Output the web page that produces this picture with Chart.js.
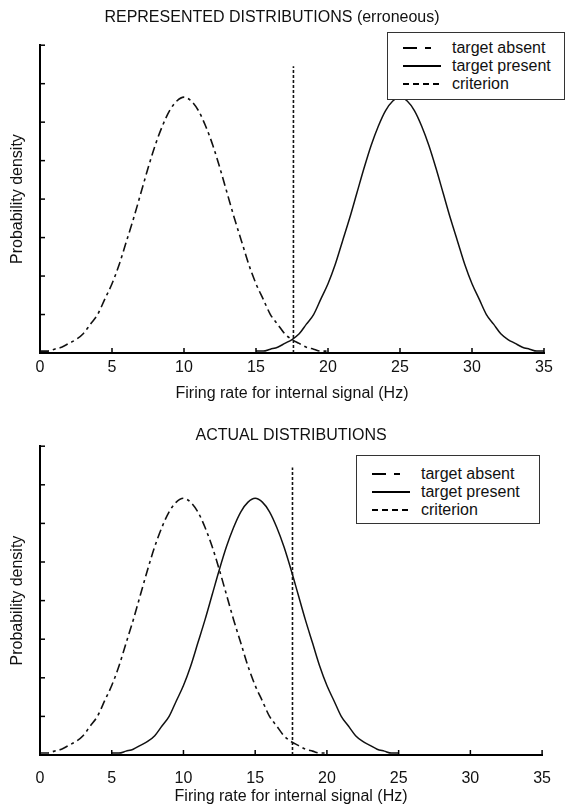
<!DOCTYPE html>
<html>
<head>
<meta charset="utf-8">
<script src="https://cdn.jsdelivr.net/npm/chart.js@4.4.0/dist/chart.umd.min.js"></script>
<style>
    body { margin: 0; background: #fff; }
    #contenedor { position: relative; width: 565px; height: 807px; }
    canvas { position: absolute; left: 0; }
    .leyenda {
        position: absolute;
        background: #fff;
        border: 1.5px solid #333;
        font: 16px "Liberation Sans", Arial, sans-serif;
        color: #111;
        box-sizing: border-box;
        padding-top: 6px;
    }
    .leyenda div { display: flex; align-items: center; height: 18px; }
    .leyenda svg { margin-left: 15px; margin-right: 11px; }
</style>
</head>
<body>
<div id="contenedor">
    <canvas id="grafico-representado" width="565" height="404" style="top:0"></canvas>
    <canvas id="grafico-real" width="565" height="403" style="top:404px"></canvas>
    <div id="leyenda-representado" class="leyenda" style="left:387px; top:32px; width:178px; height:68px"></div>
    <div id="leyenda-real" class="leyenda" style="left:356px; top:455px; width:184px; height:69px; padding-top:9px"></div>
</div>
<script>
// Valores
const etiquetasX = [0, 5, 10, 15, 20, 25, 30, 35];
const criterio = 17.6;
const alturaCriterio = 0.149;

const xAusente = [0, 0.5, 1, 1.5, 2, 2.5, 3, 3.5, 4, 4.5, 5, 5.5, 6, 6.5, 7, 7.5, 8, 8.5, 9, 9.5, 10,
    10.5, 11, 11.5, 12, 12.5, 13, 13.5, 14, 14.5, 15, 15.5, 16, 16.5, 17, 17.5, 18, 18.5, 19, 19.5, 20];
const yAusente = [0.001, 0.001, 0.002, 0.003, 0.005, 0.007, 0.010, 0.015, 0.020, 0.028, 0.036, 0.046, 0.058, 0.070, 0.083, 0.096, 0.108, 0.118, 0.126, 0.131, 0.133,
    0.131, 0.126, 0.118, 0.108, 0.096, 0.083, 0.070, 0.058, 0.046, 0.036, 0.028, 0.020, 0.015, 0.010, 0.007, 0.005, 0.003, 0.002, 0.001, 0.001];

// objetivo presente (representado, media 25)
const xPresenteRep = [15, 15.5, 16, 16.5, 17, 17.5, 18, 18.5, 19, 19.5, 20, 20.5, 21, 21.5, 22, 22.5, 23, 23.5, 24, 24.5, 25,
    25.5, 26, 26.5, 27, 27.5, 28, 28.5, 29, 29.5, 30, 30.5, 31, 31.5, 32, 32.5, 33, 33.5, 34, 34.5, 35];
const yPresenteRep = [0.001, 0.001, 0.002, 0.003, 0.005, 0.007, 0.010, 0.015, 0.020, 0.028, 0.036, 0.046, 0.058, 0.070, 0.083, 0.096, 0.108, 0.118, 0.126, 0.131, 0.133,
    0.131, 0.126, 0.118, 0.108, 0.096, 0.083, 0.070, 0.058, 0.046, 0.036, 0.028, 0.020, 0.015, 0.010, 0.007, 0.005, 0.003, 0.002, 0.001, 0.001];

// objetivo presente (real, media 15)
const xPresenteReal = [5, 5.5, 6, 6.5, 7, 7.5, 8, 8.5, 9, 9.5, 10, 10.5, 11, 11.5, 12, 12.5, 13, 13.5, 14, 14.5, 15,
    15.5, 16, 16.5, 17, 17.5, 18, 18.5, 19, 19.5, 20, 20.5, 21, 21.5, 22, 22.5, 23, 23.5, 24, 24.5, 25];
const yPresenteReal = [0.001, 0.001, 0.002, 0.003, 0.005, 0.007, 0.010, 0.015, 0.020, 0.028, 0.036, 0.046, 0.058, 0.070, 0.083, 0.096, 0.108, 0.118, 0.126, 0.131, 0.133,
    0.131, 0.126, 0.118, 0.108, 0.096, 0.083, 0.070, 0.058, 0.046, 0.036, 0.028, 0.020, 0.015, 0.010, 0.007, 0.005, 0.003, 0.002, 0.001, 0.001];

const fuente = { family: '"Liberation Sans", Arial, sans-serif', size: 16 };
const colorTexto = '#111';

const aPuntos = (xs, ys) => xs.map((x, i) => ({ x: x, y: ys[i] }));

// Marcas de los ejes hacia dentro
const marcasInternas = {
    id: 'marcasInternas',
    afterDatasetsDraw(chart) {
        const { ctx, chartArea } = chart;
        const x = chart.scales.x, y = chart.scales.y;
        ctx.save();
        ctx.strokeStyle = '#000';
        ctx.lineWidth = 1.5;
        x.ticks.forEach(t => {
            const px = x.getPixelForValue(t.value);
            ctx.beginPath();
            ctx.moveTo(px, chartArea.bottom);
            ctx.lineTo(px, chartArea.bottom - 5);
            ctx.stroke();
        });
        y.ticks.forEach(t => {
            const py = y.getPixelForValue(t.value);
            ctx.beginPath();
            ctx.moveTo(chartArea.left, py);
            ctx.lineTo(chartArea.left + 5, py);
            ctx.stroke();
        });
        ctx.restore();
    }
};

// Leyenda en HTML a partir de los datasets
const leyendaHtml = {
    id: 'leyendaHtml',
    afterUpdate(chart, args, options) {
        const caja = document.getElementById(options.contenedor);
        if (!caja) return;
        caja.innerHTML = '';
        chart.data.datasets.forEach(ds => {
            const fila = document.createElement('div');
            const ns = 'http://www.w3.org/2000/svg';
            const svg = document.createElementNS(ns, 'svg');
            svg.setAttribute('width', '38');
            svg.setAttribute('height', '6');
            const linea = document.createElementNS(ns, 'line');
            linea.setAttribute('x1', '0');
            linea.setAttribute('x2', '38');
            linea.setAttribute('y1', '3');
            linea.setAttribute('y2', '3');
            linea.setAttribute('stroke', '#000');
            linea.setAttribute('stroke-width', '2.2');
            if (ds.guionLeyenda) linea.setAttribute('stroke-dasharray', ds.guionLeyenda.join(' '));
            svg.appendChild(linea);
            const texto = document.createElement('span');
            texto.textContent = ds.label;
            fila.appendChild(svg);
            fila.appendChild(texto);
            caja.appendChild(fila);
        });
    }
};

function crearGrafico(idCanvas, idLeyenda, titulo, tituloCompleto, paddingTitulo, xPres, yPres, alturaEjeX, paddingTicks) {
    const ctx = document.getElementById(idCanvas).getContext('2d');
    return new Chart(ctx, {
        type: 'line',
        data: {
            datasets: [
                {
                    label: 'target absent',
                    data: aPuntos(xAusente, yAusente),
                    borderColor: '#111',
                    borderWidth: 1.6,
                    borderDash: [9, 4, 3, 4],
                    guionLeyenda: [14, 8, 6, 20],
                    pointRadius: 0,
                    cubicInterpolationMode: 'monotone'
                },
                {
                    label: 'target present',
                    data: aPuntos(xPres, yPres),
                    borderColor: '#111',
                    borderWidth: 1.5,
                    pointRadius: 0,
                    cubicInterpolationMode: 'monotone'
                },
                {
                    label: 'criterion',
                    data: [{ x: criterio, y: 0 }, { x: criterio, y: alturaCriterio }],
                    borderColor: '#111',
                    borderWidth: 1.6,
                    borderDash: [3, 2],
                    guionLeyenda: [6, 4],
                    pointRadius: 0
                }
            ]
        },
        options: {
            responsive: false,
            animation: false,
            layout: { padding: { left: 0, right: 21, top: 0, bottom: 0 } },
            plugins: {
                legend: { display: false },
                tooltip: { enabled: false },
                title: {
                    display: true,
                    text: titulo,
                    fullSize: tituloCompleto,
                    color: colorTexto,
                    font: { ...fuente, weight: 'normal' },
                    padding: paddingTitulo
                },
                leyendaHtml: { contenedor: idLeyenda }
            },
            scales: {
                x: {
                    type: 'linear',
                    min: 0,
                    max: 35,
                    afterBuildTicks: s => { s.ticks = etiquetasX.map(v => ({ value: v })); },
                    afterFit: s => { s.height = alturaEjeX; },
                    grid: { display: false, drawTicks: false },
                    border: { display: true, color: '#000', width: 2 },
                    ticks: { color: colorTexto, font: fuente, padding: paddingTicks, maxRotation: 0 },
                    title: {
                        display: true,
                        text: 'Firing rate for internal signal (Hz)',
                        color: colorTexto,
                        font: fuente,
                        padding: { top: 0, bottom: 1 }
                    }
                },
                y: {
                    min: 0,
                    max: 0.16,
                    afterFit: s => { s.width = 40; },
                    grid: { display: false, drawTicks: false },
                    border: { display: true, color: '#000', width: 2 },
                    ticks: { display: false, stepSize: 0.02 },
                    title: {
                        display: true,
                        text: 'Probability density',
                        color: colorTexto,
                        font: fuente,
                        padding: { top: 8, bottom: 0 }
                    }
                }
            }
        },
        plugins: [marcasInternas, leyendaHtml]
    });
}

crearGrafico('grafico-representado', 'leyenda-representado', 'REPRESENTED DISTRIBUTIONS (erroneous)', true,
    { top: 8, bottom: 18 }, xPresenteRep, yPresenteRep, 51, 5);
crearGrafico('grafico-real', 'leyenda-real', 'ACTUAL DISTRIBUTIONS', false,
    { top: 22, bottom: 1 }, xPresenteReal, yPresenteReal, 52, 14);
</script>
</body>
</html>
